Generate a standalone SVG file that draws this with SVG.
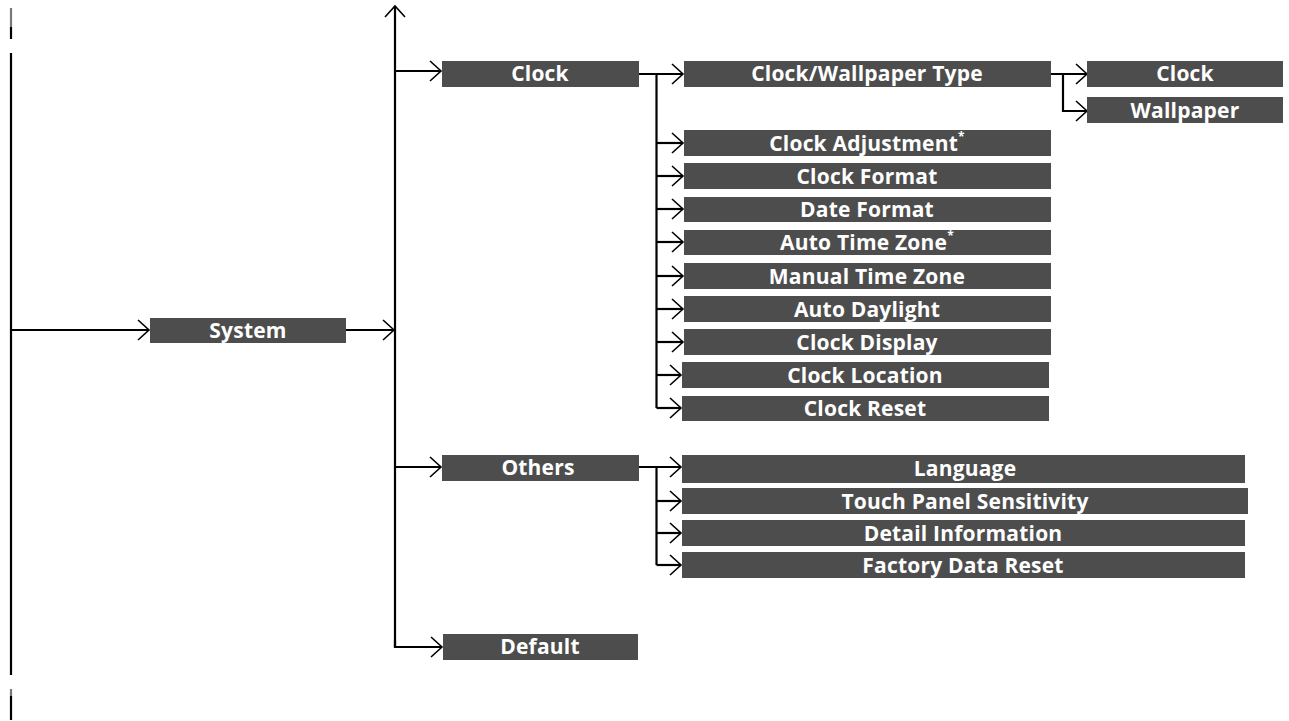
<svg xmlns="http://www.w3.org/2000/svg" width="1289" height="721" viewBox="0 0 1289 721">
<defs>
<marker id="ah" markerUnits="userSpaceOnUse" markerWidth="14" markerHeight="22" refX="12" refY="11" orient="auto">
<path d="M1,1 L12,11 L1,21" fill="none" stroke="#000" stroke-width="1.6"/>
</marker>
</defs>
<style>
.box{fill:#4d4d4d}
.t{font-family:"Open Sans","Noto Sans","Liberation Sans",sans-serif;font-weight:bold;font-size:21px;letter-spacing:0.2px;fill:#fff;text-anchor:middle;dominant-baseline:central}
.sup{font-size:12px}
.ln{fill:none;stroke:#000;stroke-width:2.2}
.ar{fill:none;stroke:#000;stroke-width:2.2;marker-end:url(#ah)}
</style>
<rect width="1289" height="721" fill="#fff"/>
<g id="connectors">
<line x1="11" y1="8" x2="11" y2="27" stroke="#777" stroke-width="2.2"/>
<line x1="11" y1="27" x2="11" y2="39" class="ln"/>
<line x1="11" y1="53" x2="11" y2="675" class="ln"/>
<line x1="11" y1="689" x2="11" y2="696" stroke="#777" stroke-width="2.2"/>
<line x1="11" y1="696" x2="11" y2="720" class="ln"/>
<path class="ar" d="M11,330 H149"/>
<path class="ar" d="M346,330 H394"/>
<path class="ar" d="M395,647 V6"/>
<path class="ar" d="M395,71 H441"/>
<path class="ar" d="M395,467 H441"/>
<path class="ar" d="M395,646 V647 H442"/>
<path class="ln" d="M395,640 V647"/>
<path class="ar" d="M639,74 H683"/>
<path class="ln" d="M656.5,74 V408"/>
<path class="ar" d="M656.5,143 H683"/>
<path class="ar" d="M656.5,176 H683"/>
<path class="ar" d="M656.5,209 H683"/>
<path class="ar" d="M656.5,242 H683"/>
<path class="ar" d="M656.5,276 H683"/>
<path class="ar" d="M656.5,309 H683"/>
<path class="ar" d="M656.5,342 H683"/>
<path class="ar" d="M656.5,375 H681"/>
<path class="ar" d="M656.5,408 H681"/>
<path class="ar" d="M1051,74 H1087"/>
<path class="ar" d="M1063,74 V111 H1087"/>
<path class="ar" d="M639,467 H681"/>
<path class="ln" d="M656.5,467 V565"/>
<path class="ar" d="M656.5,501 H681"/>
<path class="ar" d="M656.5,533 H681"/>
<path class="ar" d="M656.5,565 H681"/>
</g>
<g id="system"><rect class="box" x="150" y="318" width="196" height="25"/><text class="t" x="248" y="330">System</text></g>
<g id="clock"><rect class="box" x="442" y="61" width="197" height="26"/><text class="t" x="540" y="73">Clock</text></g>
<g id="others"><rect class="box" x="442" y="455" width="197" height="26"/><text class="t" x="538" y="467">Others</text></g>
<g id="default"><rect class="box" x="443" y="634" width="195" height="26"/><text class="t" x="540" y="646">Default</text></g>
<g id="clock-wallpaper-type"><rect class="box" x="684" y="61" width="367" height="26"/><text class="t" x="867" y="73">Clock/Wallpaper Type</text></g>
<g id="clock-opt"><rect class="box" x="1087" y="61" width="196" height="26"/><text class="t" x="1185" y="73">Clock</text></g>
<g id="wallpaper"><rect class="box" x="1087" y="97" width="196" height="26"/><text class="t" x="1185" y="109.5">Wallpaper</text></g>
<g id="clock-adjustment"><rect class="box" x="684" y="130" width="367" height="26"/><text class="t" x="867" y="142.5">Clock Adjustment<tspan class="sup" dy="-7">*</tspan></text></g>
<g id="clock-format"><rect class="box" x="684" y="163" width="367" height="26"/><text class="t" x="867" y="175.5">Clock Format</text></g>
<g id="date-format"><rect class="box" x="684" y="197" width="367" height="25"/><text class="t" x="867" y="209">Date Format</text></g>
<g id="auto-time-zone"><rect class="box" x="684" y="230" width="367" height="25"/><text class="t" x="867" y="242">Auto Time Zone<tspan class="sup" dy="-7">*</tspan></text></g>
<g id="manual-time-zone"><rect class="box" x="684" y="263" width="367" height="26"/><text class="t" x="867" y="275.5">Manual Time Zone</text></g>
<g id="auto-daylight"><rect class="box" x="684" y="296" width="367" height="26"/><text class="t" x="867" y="308.5">Auto Daylight</text></g>
<g id="clock-display"><rect class="box" x="684" y="329" width="367" height="26"/><text class="t" x="867" y="341.5">Clock Display</text></g>
<g id="clock-location"><rect class="box" x="682" y="362" width="367" height="26"/><text class="t" x="865" y="374.5">Clock Location</text></g>
<g id="clock-reset"><rect class="box" x="682" y="396" width="367" height="25"/><text class="t" x="865" y="408">Clock Reset</text></g>
<g id="language"><rect class="box" x="682" y="455" width="563" height="28"/><text class="t" x="965" y="467.5">Language</text></g>
<g id="touch-panel-sensitivity"><rect class="box" x="682" y="488" width="566" height="26"/><text class="t" x="965" y="500.5">Touch Panel Sensitivity</text></g>
<g id="detail-information"><rect class="box" x="682" y="520" width="563" height="26"/><text class="t" x="963" y="532.5">Detail Information</text></g>
<g id="factory-data-reset"><rect class="box" x="682" y="552" width="563" height="26"/><text class="t" x="963" y="564.5">Factory Data Reset</text></g>
</svg>
